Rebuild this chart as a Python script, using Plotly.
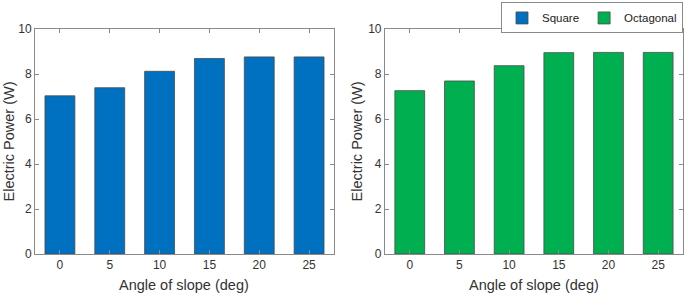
import plotly.graph_objects as go

angles = ["0", "5", "10", "15", "20", "25"]
square_power = [7.03, 7.39, 8.12, 8.69, 8.76, 8.76]
octagonal_power = [7.26, 7.69, 8.37, 8.95, 8.96, 8.96]
y_ticks = [0, 2, 4, 6, 8, 10]

FONT = "Liberation Sans, Arial, sans-serif"
AX = "#8a8a8a"
TXT = "#333333"

fig = go.Figure()
fig.add_trace(go.Bar(x=angles, y=square_power, name="Square", width=0.6,
                     marker=dict(color="#0070C0", line=dict(color="#4a4a4a", width=0.8)),
                     xaxis="x", yaxis="y"))
fig.add_trace(go.Bar(x=angles, y=octagonal_power, name="Octagonal", width=0.6,
                     marker=dict(color="#00B050", line=dict(color="#4a4a4a", width=0.8)),
                     xaxis="x2", yaxis="y2"))

ax_common = dict(showline=True, linecolor=AX, linewidth=1, mirror="ticks",
                 ticks="inside", ticklen=4, tickcolor=AX, showgrid=False,
                 zeroline=False, tickfont=dict(family=FONT, size=12, color=TXT))

fig.update_layout(
    width=685, height=296,
    margin=dict(l=35, r=2, t=27, b=42),
    paper_bgcolor="white", plot_bgcolor="white",
    font=dict(family=FONT, color=TXT),
    showlegend=True,
    legend=dict(orientation="h", x=1.0, xanchor="right", y=1.118, yanchor="top",
                bordercolor="#8a8a8a", borderwidth=1, bgcolor="white",
                font=dict(family=FONT, size=11.5, color="#222222"),
                itemwidth=30, tracegroupgap=0),
    xaxis=dict(domain=[0, 0.4614], range=[-0.5, 5.5], anchor="y", **ax_common),
    yaxis=dict(domain=[0, 1], range=[0, 10], tickvals=y_ticks, anchor="x", **ax_common),
    xaxis2=dict(domain=[0.540, 1.0], range=[-0.5, 5.5], anchor="y2", **ax_common),
    yaxis2=dict(domain=[0, 1], range=[0, 10], tickvals=y_ticks, anchor="x2", **ax_common),
)

title_font = dict(family=FONT, size=14.5, color=TXT)
annotations = [
    dict(text="Electric Power (W)", xref="paper", yref="paper", x=0, y=0.5,
         xshift=-27, textangle=-90, showarrow=False, font=title_font,
         xanchor="center", yanchor="middle"),
    dict(text="Electric Power (W)", xref="paper", yref="paper", x=0.540, y=0.5,
         xshift=-28, textangle=-90, showarrow=False, font=title_font,
         xanchor="center", yanchor="middle"),
    dict(text="Angle of slope (deg)", xref="paper", yref="paper", x=0.4614 / 2, y=0,
         yshift=-31, showarrow=False, font=title_font, xanchor="center", yanchor="middle"),
    dict(text="Angle of slope (deg)", xref="paper", yref="paper", x=(0.540 + 1.0) / 2, y=0,
         yshift=-31, showarrow=False, font=title_font, xanchor="center", yanchor="middle"),
]
fig.update_layout(annotations=annotations)

fig.write_html("out.html", config={"displayModeBar": False},
               post_script="document.body.style.margin='0';document.body.style.overflow='hidden';")
